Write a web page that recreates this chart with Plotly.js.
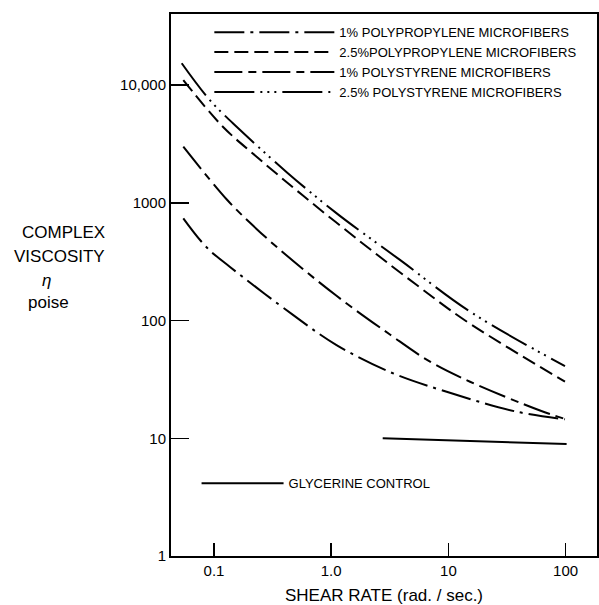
<!DOCTYPE html>
<html>
<head>
<meta charset="utf-8">
<script src="https://cdn.plot.ly/plotly-3.0.1.min.js"></script>
<style>html,body{margin:0;padding:0;background:#fff}#chart{width:599px;height:605px}</style>
</head>
<body>
<div id="chart"></div>
<script>
// Shear rate (rad/sec) and complex viscosity (poise)
const pp1_x = [0.0547, 0.0867, 0.137, 0.475, 1.11, 3.28, 9.67, 38.3, 98.8];
const pp1_y = [738, 417, 285, 111, 61.9, 36, 24.8, 16.8, 14.5];

const pp25_x = [0.0547, 0.119, 0.231, 0.574, 1.88, 5.37, 13.9, 98.8];
const pp25_y = [11020, 4425, 2460, 1150, 447, 200, 100, 30.2];

const ps1_x = [0.0547, 0.128, 0.203, 0.366, 1.11, 3.17, 6.97, 15.3, 60.5, 98.8];
const ps1_y = [2993, 1070, 676, 398, 162, 76, 44.7, 30.2, 17.2, 14.6];

const ps25_x = [0.053, 0.0925, 0.167, 0.417, 1.114, 3.86, 15.3, 98.8];
const ps25_y = [15290, 7410, 4150, 1820, 813, 327, 119, 41];

const gly_x = [2.75, 102];
const gly_y = [10.0, 8.94];

const seriesNames = [
  "1% POLYPROPYLENE MICROFIBERS",
  "2.5%POLYPROPYLENE MICROFIBERS",
  "1% POLYSTYRENE MICROFIBERS",
  "2.5% POLYSTYRENE MICROFIBERS",
  "GLYCERINE CONTROL"
];

const xTickVals = [0.1, 1, 10, 100];
const xTickText = ["0.1", "1.0", "10", "100"];
const yTickVals = [1, 10, 100, 1000, 10000];
const yTickText = ["1", "10", "100", "1000", "10,000"];

const FONT = "Liberation Sans, Arial, sans-serif";

function curve(x, y, name, dash, legend) {
  return {
    x: x, y: y, name: name, type: "scatter", mode: "lines",
    line: {color: "#000", width: 2, dash: dash, shape: "spline", smoothing: 1},
    legend: legend || "legend", hoverinfo: "skip"
  };
}

const data = [
  curve(pp1_x, pp1_y, seriesNames[0], "30px,6px,3px,6px"),
  curve(pp25_x, pp25_y, seriesNames[1], "14px,6px"),
  curve(ps1_x, ps1_y, seriesNames[2], "28px,6px,8px,6px"),
  curve(ps25_x, ps25_y, seriesNames[3], "40px,6px,2px,5px,2px,5px,2px,6px"),
  curve(gly_x, gly_y, seriesNames[4], "solid", "legend2")
];

const axisCommon = {
  type: "log", showline: true, linewidth: 2, linecolor: "#000", mirror: true,
  ticks: "inside", tickcolor: "#000", tickwidth: 1.5,
  showgrid: false, zeroline: false, tickmode: "array",
  tickfont: {family: FONT, size: 15, color: "#000"}
};

const layout = {
  width: 599, height: 605,
  margin: {l: 171, r: 2, t: 14, b: 49},
  paper_bgcolor: "#fff", plot_bgcolor: "#fff",
  font: {family: FONT, color: "#000"},
  xaxis: Object.assign({}, axisCommon, {
    range: [-1.367, 2.268], tickvals: xTickVals, ticktext: xTickText, ticklen: 13,
    title: {text: "SHEAR RATE (rad. / sec.)", font: {family: FONT, size: 17, color: "#000"}, standoff: 12}
  }),
  yaxis: Object.assign({}, axisCommon, {
    range: [0, 4.603], tickvals: yTickVals, ticktext: yTickText, ticklen: 18
  }),
  showlegend: true,
  legend: {
    x: 0.09, y: 0.994, xanchor: "left", yanchor: "top",
    bgcolor: "rgba(0,0,0,0)", itemwidth: 120, tracegroupgap: 0,
    font: {family: FONT, size: 13, color: "#000"}, itemclick: false
  },
  legend2: {
    x: 0.06, y: 0.162, xanchor: "left", yanchor: "top",
    bgcolor: "rgba(0,0,0,0)", itemwidth: 82,
    font: {family: FONT, size: 13, color: "#000"}, itemclick: false
  },
  annotations: [
    {text: "COMPLEX", x: -0.2512, y: 0.596},
    {text: "VISCOSITY", x: -0.2606, y: 0.5517},
    {text: "<i>η</i>", x: -0.2911, y: 0.5092},
    {text: "poise", x: -0.2864, y: 0.4668}
  ].map(a => Object.assign(a, {
    xref: "paper", yref: "paper", xanchor: "center", yanchor: "middle",
    showarrow: false, font: {family: FONT, size: 17, color: "#000"}
  }))
};

Plotly.newPlot("chart", data, layout, {staticPlot: true});
</script>
</body>
</html>
